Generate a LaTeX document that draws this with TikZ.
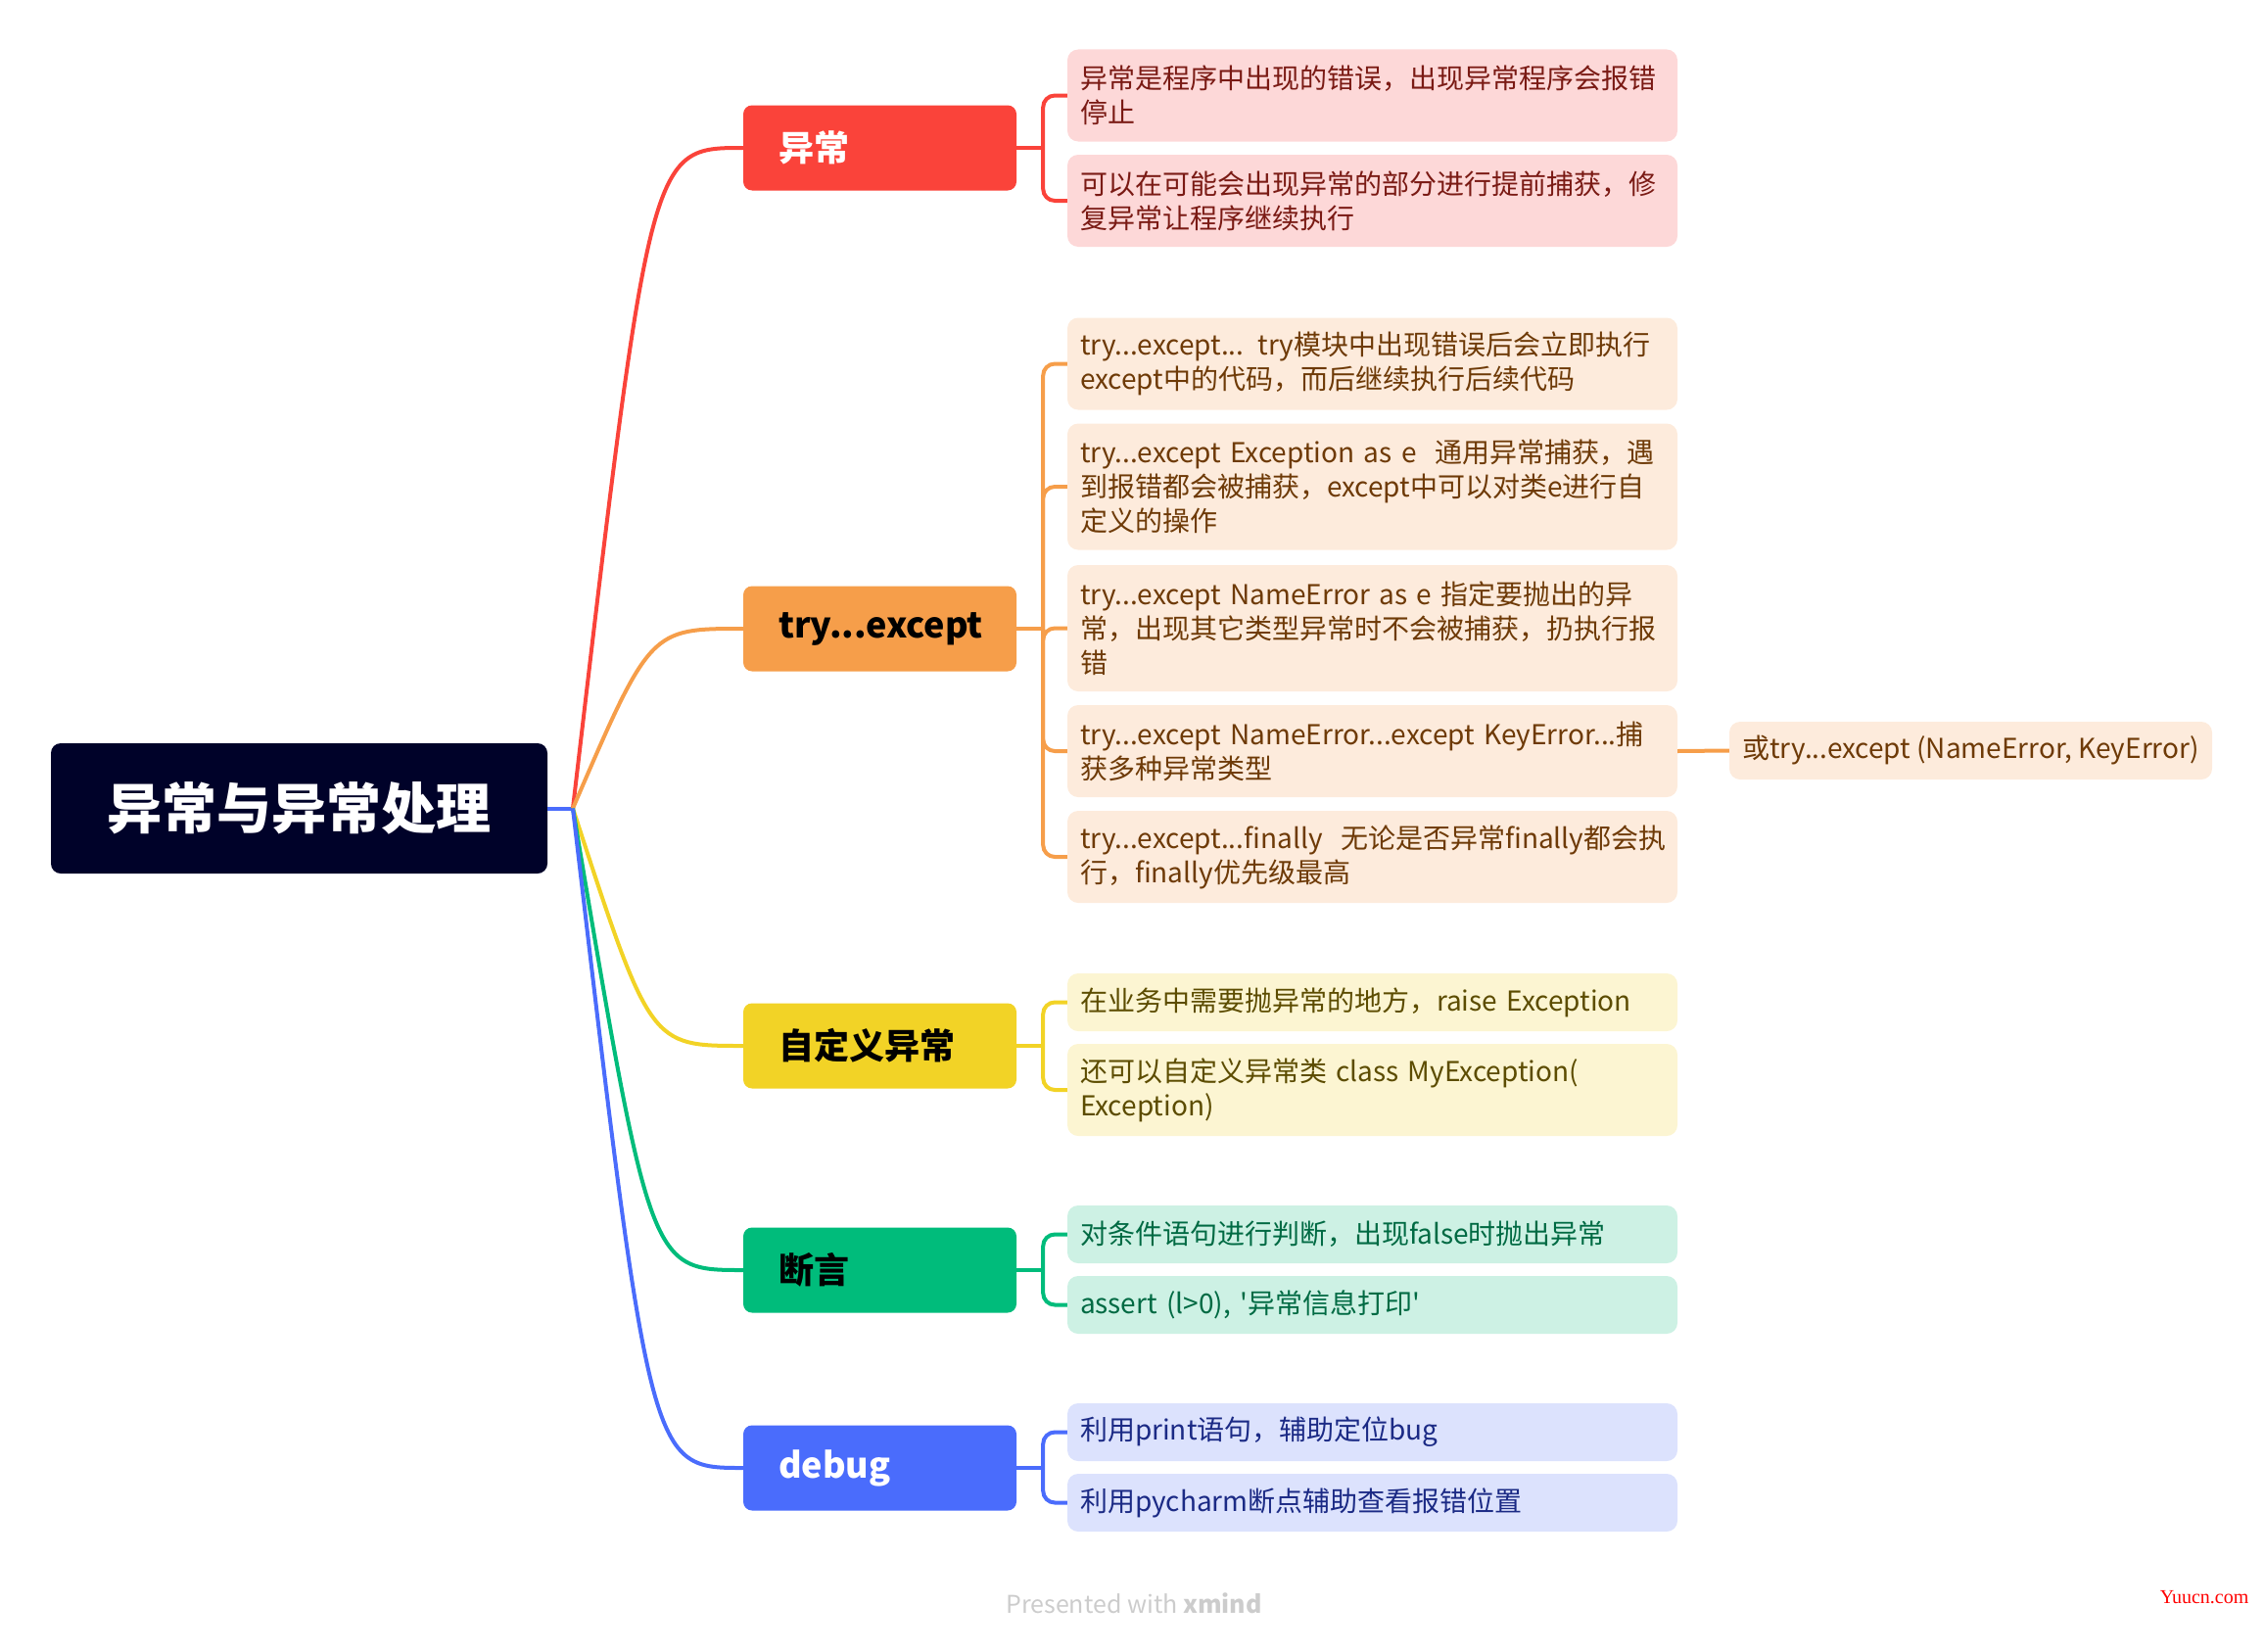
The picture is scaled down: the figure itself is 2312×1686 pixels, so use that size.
\documentclass[tikz,border=0pt]{standalone}
\usepackage{fontspec}
\setmainfont{Noto Sans CJK SC}[Ligatures=TeXOff]
\newfontfamily\wmfont{Liberation Serif}
\usetikzlibrary{calc}

\definecolor{rootbg}{HTML}{000229}
\definecolor{redmain}{HTML}{FA433A}
\definecolor{redlight}{HTML}{FDD8D8}
\definecolor{redtext}{HTML}{7A1A14}
\definecolor{orangemain}{HTML}{F69E4A}
\definecolor{orangelight}{HTML}{FDEBDC}
\definecolor{orangetext}{HTML}{6E3A07}
\definecolor{yellowmain}{HTML}{F2D326}
\definecolor{yellowlight}{HTML}{FCF5D2}
\definecolor{yellowtext}{HTML}{5C4C00}
\definecolor{greenmain}{HTML}{00BC7B}
\definecolor{greenlight}{HTML}{CDF1E4}
\definecolor{greentext}{HTML}{006A43}
\definecolor{bluemain}{HTML}{4A6CFC}
\definecolor{bluelight}{HTML}{DCE2FD}
\definecolor{bluetext}{HTML}{1B2A85}

% one unbreakable line of leaf text
\newcommand{\lf}[1]{\mbox{#1}}

\tikzset{
  rootbox/.style={fill=rootbg, rounded corners=10pt, minimum width=507pt, minimum height=133pt,
    text=white, font=\fontsize{56}{64}\selectfont\bfseries},
  topic/.style={fill=#1, rounded corners=9pt, minimum width=279pt, minimum height=87pt,
    text width=207pt, inner xsep=36pt, align=left, font=\fontsize{36}{42}\selectfont\bfseries},
  leaf/.style={rounded corners=11pt, text width=597pt, inner xsep=13pt, inner ysep=0pt,
    align=left, font=\fontsize{28}{35}\selectfont},
  oneline/.style={minimum height=59pt},
  twolines/.style={minimum height=94pt},
  threelines/.style={minimum height=129pt},
  branch/.style={line width=4pt, #1},
  bracket/.style={line width=4pt, rounded corners=12pt, #1},
}

\begin{document}
\begin{tikzpicture}[x=1pt, y=-1pt]
  \useasboundingbox (0,0) rectangle (2312,1686);

  % root and fan point
  \node[rootbox] (root) at (305.5,825.5) {异常与异常处理};
  \coordinate (fan) at (585,825.5);
  \coordinate (ctl) at (664,0);

  % main topics
  \node[topic=redmain, text=white] (exc) at (898.5,151) {异常};
  \node[topic=orangemain, text=black] (try) at (898.5,642) {try...except};
  \node[topic=yellowmain, text=black] (own) at (898.5,1068) {自定义异常};
  \node[topic=greenmain, text=black] (ass) at (898.5,1297) {断言};
  \node[topic=bluemain, text=white] (dbg) at (898.5,1499) {debug};

  \draw[branch=bluemain] (root.east) -- (fan);
  \draw[branch=redmain] (fan) .. controls (ctl |- exc) .. (exc.west);
  \draw[branch=orangemain] (fan) .. controls (ctl |- try) .. (try.west);
  \draw[branch=yellowmain] (fan) .. controls (ctl |- own) .. (own.west);
  \draw[branch=greenmain] (fan) .. controls (ctl |- ass) .. (ass.west);
  \draw[branch=bluemain] (fan) .. controls (ctl |- dbg) .. (dbg.west);

  % leaves of 异常
  \node[leaf, twolines, fill=redlight, text=redtext] (r1) at (1401.5,97.5)
    {\lf{异常是程序中出现的错误，出现异常程序会报错}\\\lf{停止}};
  \node[leaf, twolines, fill=redlight, text=redtext] (r2) at (1401.5,205)
    {\lf{可以在可能会出现异常的部分进行提前捕获，修}\\\lf{复异常让程序继续执行}};

  % leaves of try...except
  \node[leaf, twolines, fill=orangelight, text=orangetext] (o1) at (1401.5,371.5)
    {\lf{try...except... try模块中出现错误后会立即执行}\\\lf{except中的代码，而后继续执行后续代码}};
  \node[leaf, threelines, fill=orangelight, text=orangetext] (o2) at (1401.5,497)
    {\lf{try...except Exception as e\ \ 通用异常捕获，遇}\\\lf{到报错都会被捕获，except中可以对类e进行自}\\\lf{定义的操作}};
  \node[leaf, threelines, fill=orangelight, text=orangetext] (o3) at (1401.5,641.5)
    {\lf{try...except NameError as e 指定要抛出的异}\\\lf{常，出现其它类型异常时不会被捕获，扔执行报}\\\lf{错}};
  \node[leaf, twolines, fill=orangelight, text=orangetext] (o4) at (1401.5,767)
    {\lf{try...except NameError...except KeyError...捕}\\\lf{获多种异常类型}};
  \node[leaf, twolines, fill=orangelight, text=orangetext] (o5) at (1401.5,875)
    {\lf{try...except...finally\ \ 无论是否异常finally都会执}\\\lf{行，finally优先级最高}};
  \node[leaf, oneline, text width=, minimum width=493pt, fill=orangelight, text=orangetext] (o6) at (2012.5,766.5)
    {\lf{或try...except (NameError, KeyError)}};

  % leaves of 自定义异常
  \node[leaf, oneline, fill=yellowlight, text=yellowtext] (y1) at (1401.5,1023.5)
    {\lf{在业务中需要抛异常的地方，raise Exception}};
  \node[leaf, twolines, fill=yellowlight, text=yellowtext] (y2) at (1401.5,1113)
    {\lf{还可以自定义异常类 class MyException(}\\\lf{Exception)}};

  % leaves of 断言
  \node[leaf, oneline, fill=greenlight, text=greentext] (g1) at (1401.5,1260.5)
    {\lf{对条件语句进行判断，出现false时抛出异常}};
  \node[leaf, oneline, fill=greenlight, text=greentext] (g2) at (1401.5,1332.5)
    {\lf{assert (l>0), '异常信息打印'}};

  % leaves of debug
  \node[leaf, oneline, fill=bluelight, text=bluetext] (b1) at (1401.5,1462.5)
    {\lf{利用print语句，辅助定位bug}};
  \node[leaf, oneline, fill=bluelight, text=bluetext] (b2) at (1401.5,1534.5)
    {\lf{利用pycharm断点辅助查看报错位置}};

  % brackets
  \coordinate (jexc) at ($(exc.east)+(27,0)$);
  \coordinate (jtry) at ($(try.east)+(27,0)$);
  \coordinate (jown) at ($(own.east)+(27,0)$);
  \coordinate (jass) at ($(ass.east)+(27,0)$);
  \coordinate (jdbg) at ($(dbg.east)+(27,0)$);

  \draw[branch=redmain] (exc.east) -- (jexc);
  \foreach \k in {r1,r2} \draw[bracket=redmain] (jexc) |- (\k.west);
  \draw[branch=orangemain] (try.east) -- (jtry);
  \foreach \k in {o1,o2,o3,o4,o5} \draw[bracket=orangemain] (jtry) |- (\k.west);
  \draw[branch=orangemain] (o4.east) -- (o6.west);
  \draw[branch=yellowmain] (own.east) -- (jown);
  \foreach \k in {y1,y2} \draw[bracket=yellowmain] (jown) |- (\k.west);
  \draw[branch=greenmain] (ass.east) -- (jass);
  \foreach \k in {g1,g2} \draw[bracket=greenmain] (jass) |- (\k.west);
  \draw[branch=bluemain] (dbg.east) -- (jdbg);
  \foreach \k in {b1,b2} \draw[bracket=bluemain] (jdbg) |- (\k.west);

  % watermarks
  \node[text=black!20, font=\fontsize{25}{30}\selectfont] (pres) at (1158,1637)
    {Presented with \textbf{xmind}};
  \node[text=red, font=\wmfont\fontsize{20}{24}\selectfont] (yuu) at (2251,1631) {Yuucn.com};
\end{tikzpicture}
\end{document}
